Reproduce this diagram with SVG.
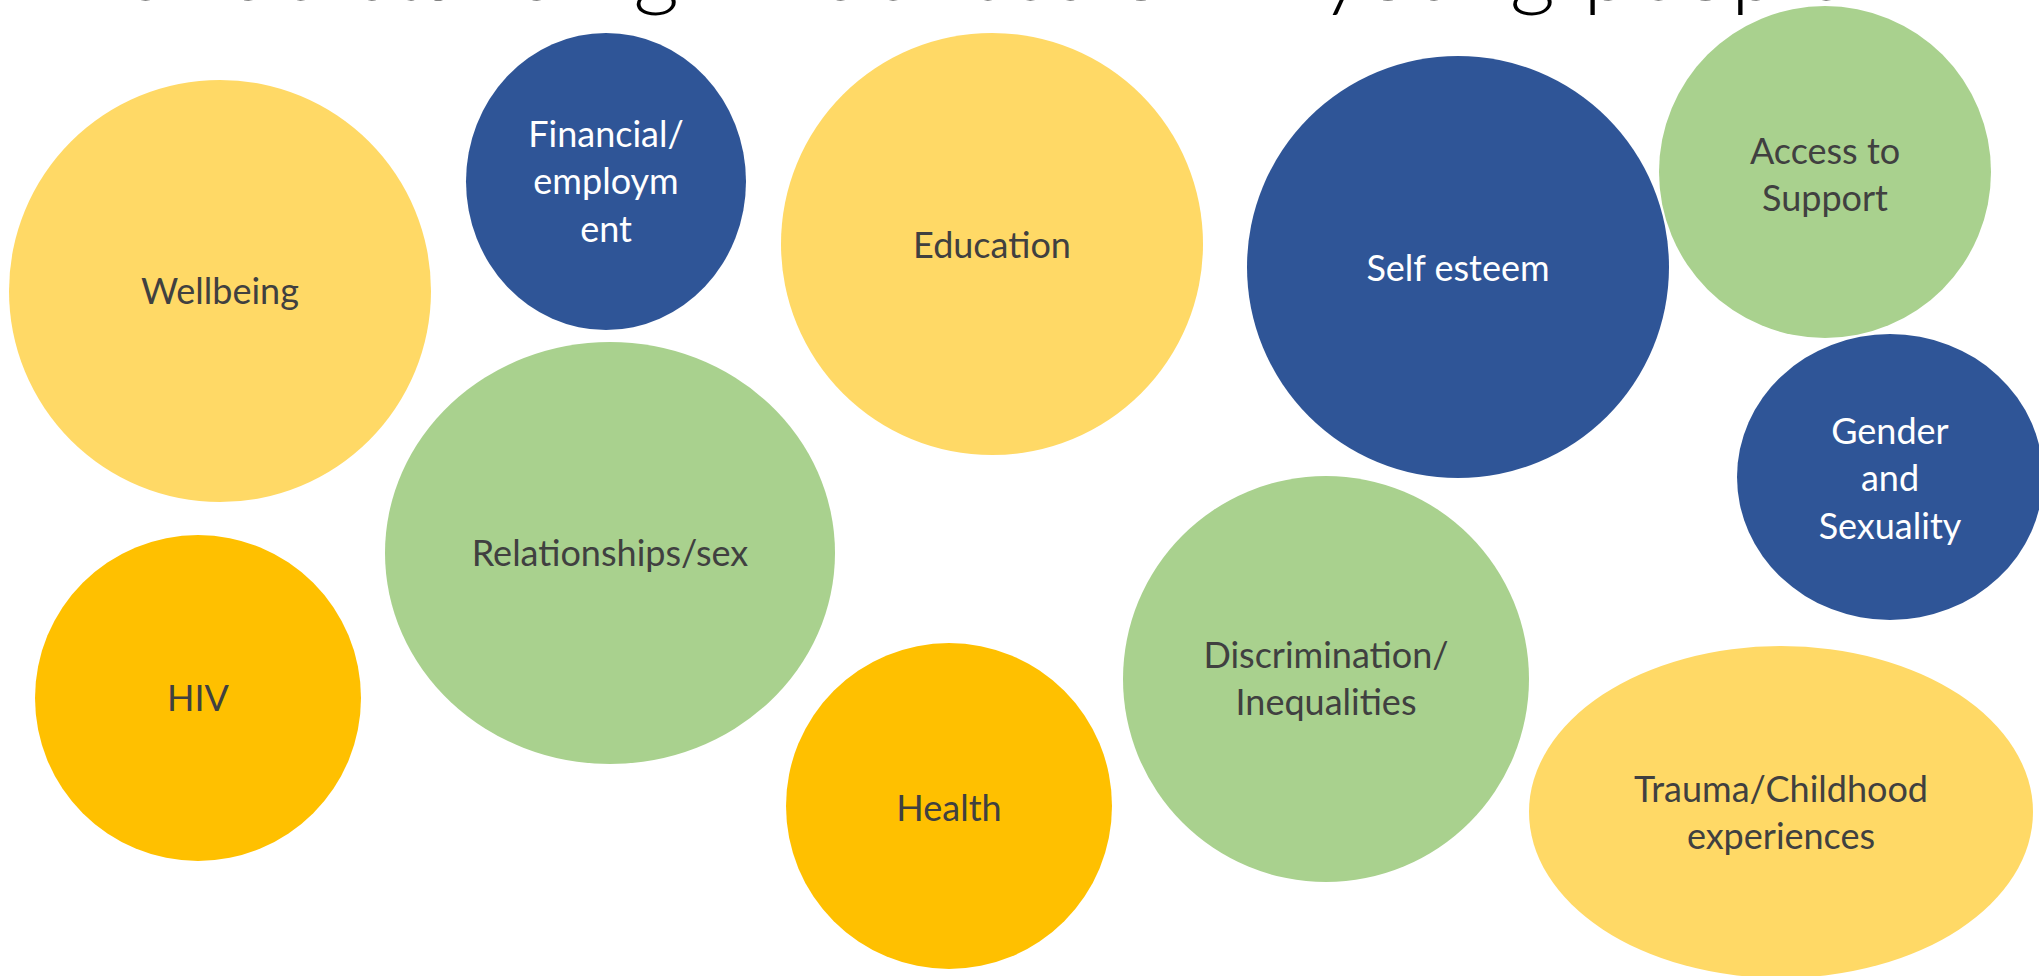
<svg xmlns="http://www.w3.org/2000/svg" width="2039" height="976" viewBox="0 0 2039 976">
<style>
.ly{fill:#FFD966}
.db{fill:#2F5597}
.gr{fill:#A9D18E}
.gd{fill:#FFC000}
.t{font-family:Lato,"Open Sans","Liberation Sans",sans-serif;font-size:36px;text-anchor:middle}
.dk{fill:#404040}
.wh{fill:#FFFFFF}
.title{font-family:Lato,"Liberation Sans",sans-serif;font-weight:300;font-size:84px;fill:#000000}
</style>
<rect width="2039" height="976" fill="#FFFFFF"/>
<g id="title">
<text class="title" x="113" y="0" textLength="566" lengthAdjust="spacingAndGlyphs">Understanding</text>
<text class="title" x="700" y="0" textLength="390" lengthAdjust="spacingAndGlyphs">influences</text>
<text class="title" x="1116" y="0" textLength="99" lengthAdjust="spacingAndGlyphs">on</text>
<text class="title" x="1320" y="0" textLength="235" lengthAdjust="spacingAndGlyphs">young</text>
<text class="title" x="1583" y="0" textLength="265" lengthAdjust="spacingAndGlyphs">people</text>
</g>
<g id="wellbeing"><circle class="ly" cx="220" cy="291" r="211"/><text class="t dk" x="220" y="304">Wellbeing</text></g>
<g id="financial"><ellipse class="db" cx="606" cy="181.5" rx="140" ry="148.5"/><text class="t wh" x="606" y="147">Financial/</text><text class="t wh" x="606" y="194">employm</text><text class="t wh" x="606" y="242">ent</text></g>
<g id="education"><circle class="ly" cx="992" cy="244" r="211"/><text class="t dk" x="992" y="258">Education</text></g>
<g id="selfesteem"><circle class="db" cx="1458" cy="267" r="211"/><text class="t wh" x="1458" y="281">Self esteem</text></g>
<g id="access"><circle class="gr" cx="1825" cy="172" r="166"/><text class="t dk" x="1825" y="164">Access to</text><text class="t dk" x="1825" y="211">Support</text></g>
<g id="gender"><ellipse class="db" cx="1890" cy="477" rx="153" ry="143"/><text class="t wh" x="1890" y="444">Gender</text><text class="t wh" x="1890" y="491">and</text><text class="t wh" x="1890" y="539">Sexuality</text></g>
<g id="relationships"><ellipse class="gr" cx="610" cy="553" rx="225" ry="211"/><text class="t dk" x="610" y="566">Relationships/sex</text></g>
<g id="hiv"><circle class="gd" cx="198" cy="698" r="163"/><text class="t dk" x="198" y="711">HIV</text></g>
<g id="health"><circle class="gd" cx="949" cy="806" r="163"/><text class="t dk" x="949" y="821">Health</text></g>
<g id="discrimination"><circle class="gr" cx="1326" cy="679" r="203"/><text class="t dk" x="1326" y="668">Discrimination/</text><text class="t dk" x="1326" y="715">Inequalities</text></g>
<g id="trauma"><ellipse class="ly" cx="1781" cy="812" rx="252" ry="166"/><text class="t dk" x="1781" y="802">Trauma/Childhood</text><text class="t dk" x="1781" y="849">experiences</text></g>
<g id="connectors"></g>
</svg>
